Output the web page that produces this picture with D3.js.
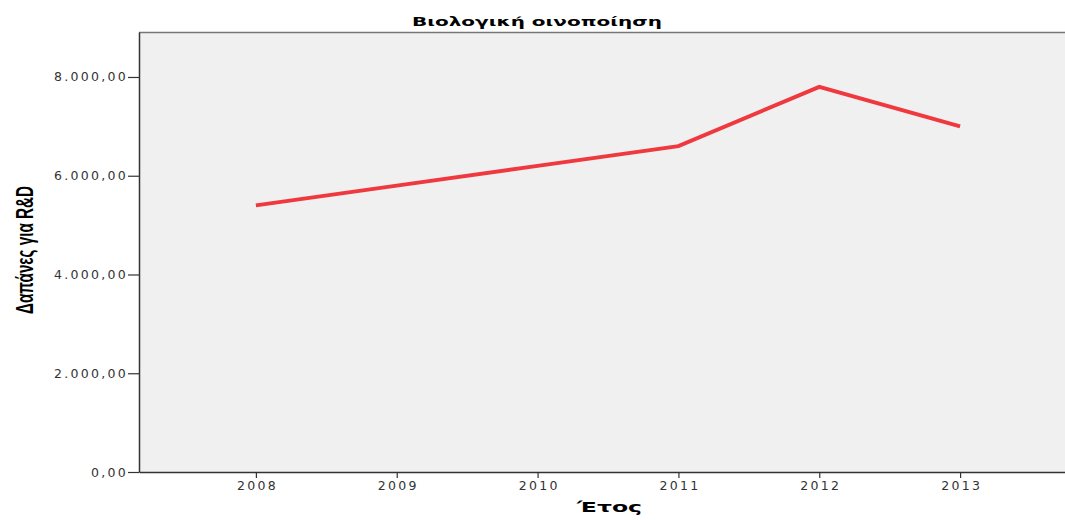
<!DOCTYPE html>
<html>
<head>
<meta charset="utf-8">
<script src="https://cdn.jsdelivr.net/npm/d3@7"></script>
<style>
  body { margin: 0; background: #fff; }
  svg { display: block; }
</style>
</head>
<body>
<div id="chart"></div>
<script>
// δεδομένα
let etos = [2008, 2009, 2010, 2011, 2012, 2013];
let dapanes = [5400, 5800, 6200, 6600, 7800, 7000];
let yTicks = [0, 2000, 4000, 6000, 8000];
let titlos = "Βιολογική οινοποίηση";

let width = 1065, height = 520;
let mLeft = 139, mTop = 32, mBottom = 472, mRight = 1077;

let svg = d3.select("#chart").append("svg")
    .attr("width", width)
    .attr("height", height);

let x = d3.scaleLinear().domain([2007.17, 2013.83]).range([mLeft, mRight]);
let y = d3.scaleLinear().domain([0, 8911]).range([mBottom, mTop]);

// φόντο
svg.append("rect")
    .attr("x", mLeft).attr("y", mTop)
    .attr("width", mRight - mLeft).attr("height", mBottom - mTop)
    .attr("fill", "#f0f0f0");
svg.append("line")
    .attr("x1", mLeft).attr("x2", mRight)
    .attr("y1", mTop + 0.5).attr("y2", mTop + 0.5)
    .attr("stroke", "#777").attr("stroke-width", 1.5);

let fmt = function (d) {
    let s = d3.format(",.2f")(d);
    return s.replace(/,/g, "#").replace(".", ",").replace(/#/g, ".");
};

// άξονες
let yAxis = svg.append("g")
    .attr("transform", "translate(" + mLeft + ",0)")
    .call(d3.axisLeft(y).tickValues(yTicks).tickSize(11).tickSizeOuter(0).tickPadding(0).tickFormat(fmt));
let xAxis = svg.append("g")
    .attr("transform", "translate(0," + mBottom + ")")
    .call(d3.axisBottom(x).tickValues(etos).tickSize(6).tickSizeOuter(0).tickPadding(3).tickFormat(d3.format("d")));

[yAxis, xAxis].forEach(function (a) {
    a.select(".domain").attr("stroke", "#333").attr("stroke-width", 1.5);
    a.selectAll(".tick line").attr("stroke", "#333").attr("stroke-width", 1.2);
    a.selectAll(".tick text")
        .attr("fill", "#333")
        .style("font-family", "DejaVu Sans, sans-serif")
        .style("font-size", "12.5px")
        .style("letter-spacing", "2.3px");
});
xAxis.selectAll(".tick text").attr("dx", "1.1px");

// γραμμή
let line = d3.line()
    .x(function (d, i) { return x(etos[i]); })
    .y(function (d) { return y(d); });
svg.append("path")
    .datum(dapanes)
    .attr("d", line)
    .attr("fill", "none")
    .attr("stroke", "#f0393f")
    .attr("stroke-width", 4)
    .attr("stroke-linejoin", "miter");

// τίτλοι
svg.append("text")
    .attr("x", 412).attr("y", 26)
    .attr("textLength", 250)
    .attr("lengthAdjust", "spacingAndGlyphs")
    .style("font-family", "DejaVu Sans, sans-serif")
    .style("font-weight", "bold")
    .style("font-size", "13px")
    .text(titlos);

svg.append("text")
    .attr("x", 577).attr("y", 512)
    .attr("textLength", 65)
    .attr("lengthAdjust", "spacingAndGlyphs")
    .style("font-family", "DejaVu Sans, sans-serif")
    .style("font-weight", "bold")
    .style("font-size", "14px")
    .text("Έτος");

svg.append("text")
    .attr("transform", "translate(33,314) rotate(-90)")
    .attr("textLength", 128)
    .attr("lengthAdjust", "spacingAndGlyphs")
    .style("font-family", "Liberation Sans, sans-serif")
    .style("font-weight", "bold")
    .style("font-size", "23px")
    .text("Δαπάνες για R&D");
</script>
</body>
</html>
